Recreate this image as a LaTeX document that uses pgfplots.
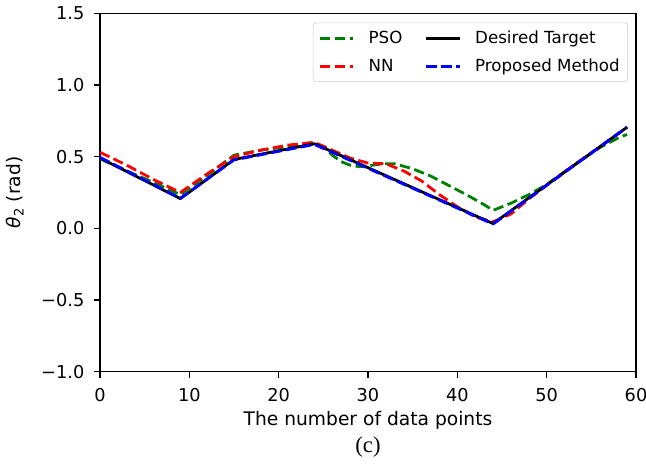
\documentclass[border=0pt]{standalone}
\usepackage{fontspec}
\setmainfont{DejaVu Sans}
\newfontfamily\seriffont{Liberation Serif}
\usepackage{pgfplots}
\pgfplotsset{compat=1.18}
\definecolor{mgreen}{rgb}{0,0.5,0}
\begin{document}
\begin{tikzpicture}
\useasboundingbox (-75pt,-69.2pt) rectangle (409.5pt,278.8pt);
\begin{axis}[
  name=ax,
  scale only axis,
  width=402pt, height=268.9pt,
  xmin=0, xmax=60, ymin=-1, ymax=1.5,
  xtick={0,10,20,30,40,50,60},
  xticklabels={0,10,20,30,40,50,60},
  ytick={-1,-0.5,0,0.5,1,1.5},
  yticklabels={−1.0,−0.5,0.0,0.5,1.0,1.5},
  tick align=outside,
  major tick length=4.5pt,
  tick style={black, line width=0.9pt},
  axis line style={line width=0.9pt},
  xtick pos=bottom, ytick pos=left,
  tick label style={font=\fontsize{13.3}{16}\selectfont},
  xticklabel style={yshift=-4.5pt},
  yticklabel style={xshift=-3.75pt},
  xlabel={The number of data points},
  ylabel={{\itshape θ}\textsubscript{2} (rad)},
  label style={font=\fontsize{14}{16}\selectfont},
  xlabel style={at={(rel axis cs:0.5,0)}, anchor=center, yshift=-36.2pt, inner sep=0pt},
  ylabel style={at={([xshift=-63.75pt]rel axis cs:0,0.5)}, anchor=center, inner sep=0pt},
  legend columns=2,
  legend cell align=left,
  legend style={at={(rel axis cs:1,1)}, anchor=north east, xshift=-6pt, yshift=-7.1pt,
    draw=black!20, rounded corners=2pt, font=\fontsize{12.5}{14}\selectfont,
    inner xsep=4pt, inner ysep=4pt, row sep=6pt,
    /tikz/every odd column/.append style={column sep=8.5pt},
    /tikz/every even column/.append style={column sep=15pt}},
  legend image code/.code={\draw[#1] (0pt,0pt) -- (25pt,0pt);},
  every axis plot/.append style={line width=2.1pt, line join=round},
]
\addplot[mgreen, dash pattern=on 7.8pt off 3.4pt, forget plot] table {
0 0.485
3 0.40
6 0.32
9 0.235
12 0.37
15 0.51
18 0.545
21 0.57
24 0.59
25 0.57
26 0.51
27 0.465
28 0.44
29 0.43
30 0.435
31 0.445
32 0.45
33 0.45
35 0.415
37 0.365
39 0.30
41 0.235
42 0.20
43 0.165
44 0.125
46 0.175
48 0.235
50 0.305
52 0.395
54 0.48
56 0.565
58 0.63
59 0.655
};
\addplot[red, dash pattern=on 7.8pt off 3.4pt, forget plot] table {
0 0.53
3 0.44
6 0.34
9 0.25
12 0.38
15 0.50
18 0.545
21 0.58
24 0.60
26 0.545
28 0.49
30 0.455
32 0.45
34 0.40
36 0.33
38 0.235
40 0.15
42 0.08
44 0.045
46 0.10
48 0.205
50 0.30
53 0.44
56 0.57
59 0.705
};
\addplot[black, forget plot] table {
0 0.49
9 0.207
15 0.48
24 0.59
44 0.033
59 0.705
};
\addplot[blue, dash pattern=on 7.8pt off 3.4pt, forget plot] table {
0 0.495
9 0.21
15 0.477
24 0.585
44 0.03
59 0.705
};
\addlegendimage{mgreen, line width=2.1pt, dash pattern=on 7.8pt off 3.4pt}
\addlegendentry{PSO}
\addlegendimage{black, line width=2.1pt}
\addlegendentry{Desired Target}
\addlegendimage{red, line width=2.1pt, dash pattern=on 7.8pt off 3.4pt}
\addlegendentry{NN}
\addlegendimage{blue, line width=2.1pt, dash pattern=on 7.8pt off 3.4pt}
\addlegendentry{Proposed Method}
\end{axis}
\node[font=\seriffont\fontsize{17}{19}\selectfont, inner sep=0pt] at ([yshift=-56.5pt]ax.south) {(c)};
\end{tikzpicture}
\end{document}
